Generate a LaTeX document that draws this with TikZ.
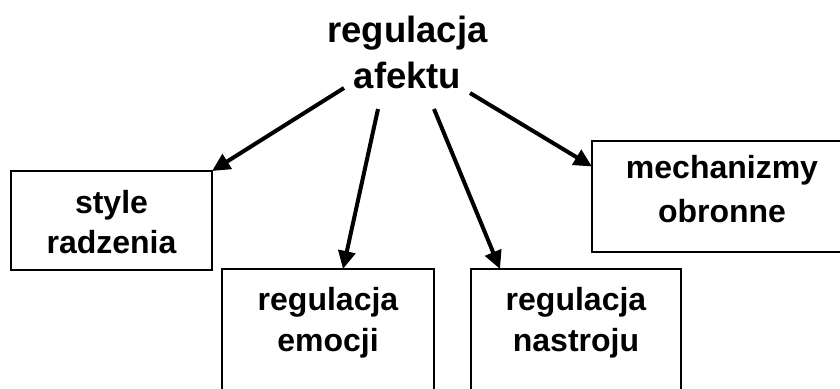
\documentclass[tikz,border=0pt]{standalone}
\usepackage{fontspec}
\setmainfont{Liberation Sans}[BoldFont={Liberation Sans Bold}]
\usetikzlibrary{arrows.meta}
\begin{document}
\begin{tikzpicture}[x=1pt,y=-1pt,
  box/.style={draw=black,line width=1.5pt,inner sep=0pt,outer sep=0pt,rectangle},
  lbl/.style={anchor=base,align=center,inner sep=0pt,font=\bfseries\fontsize{32}{40}\selectfont},
  arr/.style={line width=4pt,-{Triangle[length=18pt,width=17pt]}}]
\useasboundingbox (0,0) rectangle (840,388);
\clip (0,0) rectangle (840,388);
\fill[white] (0,0) rectangle (840,388);
% boxes
\node[box,minimum width=201pt,minimum height=99pt] (b1) at (111.5,220.5) {};
\node[box,minimum width=212pt,minimum height=151pt] (b2) at (328,344.5) {};
\node[box,minimum width=210pt,minimum height=151pt] (b3) at (576,344.5) {};
\node[box,minimum width=288pt,minimum height=111pt] (b4) at (736,196.5) {};
% texts (anchor base = baseline of last line)
\node[lbl,font=\bfseries\fontsize{36.5}{46}\selectfont] (title) at (407.5,88) {regulacja\\afektu};
\node[lbl] (t1) at (111.5,253) {style\\radzenia};
\node[lbl,font=\bfseries\fontsize{32}{41}\selectfont] (t2) at (328,351) {regulacja\\emocji};
\node[lbl,font=\bfseries\fontsize{32}{41}\selectfont] (t3) at (576,351) {regulacja\\nastroju};
\node[lbl,font=\bfseries\fontsize{32}{44.7}\selectfont] (t4) at (722,222.7) {mechanizmy\\obronne};
% arrow starts
\coordinate (s1) at (344,88);
\coordinate (s2) at (378,109);
\coordinate (s3) at (434,109);
\coordinate (s4) at (470,93);
\draw[arr] (s1) -- (b1.north east);
\draw[arr] (s2) -- ([xshift=15pt]b2.north);
\draw[arr] (s3) -- ([xshift=-76pt]b3.north);
\draw[arr] (s4) -- ([yshift=30pt]b4.west);
\end{tikzpicture}
\end{document}
